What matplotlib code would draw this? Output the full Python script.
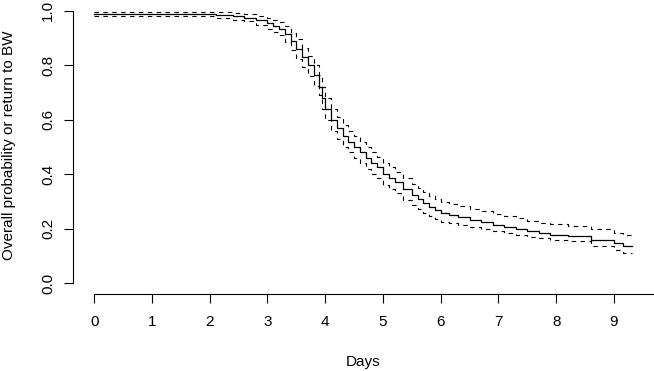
import matplotlib
matplotlib.use("Agg")
import matplotlib.pyplot as plt
import numpy as np

plt.rcParams['font.family'] = ['Liberation Sans', 'DejaVu Sans']

# step times (days) and estimates
times = [0, 2.1, 2.4, 2.6, 2.8, 3.0, 3.1, 3.2, 3.3, 3.4, 3.5, 3.6, 3.7, 3.8, 3.9,
         3.95, 4.0, 4.1, 4.2, 4.3, 4.4, 4.5, 4.6, 4.7, 4.8, 4.9, 5.0, 5.1, 5.2,
         5.35, 5.5, 5.6, 5.7, 5.8, 5.9, 6.0, 6.15, 6.3, 6.5, 6.7, 6.9, 7.1, 7.3,
         7.5, 7.7, 7.9, 8.2, 8.6, 9.0, 9.15]
end_time = 9.32

surv = [0.99, 0.985, 0.98, 0.975, 0.965, 0.955, 0.945, 0.935, 0.915, 0.89, 0.86,
        0.83, 0.80, 0.765, 0.72, 0.68, 0.64, 0.60, 0.57, 0.54, 0.52, 0.50, 0.48,
        0.46, 0.44, 0.425, 0.40, 0.385, 0.37, 0.345, 0.325, 0.31, 0.295, 0.28,
        0.27, 0.258, 0.25, 0.242, 0.232, 0.225, 0.215, 0.207, 0.198, 0.19, 0.183,
        0.177, 0.172, 0.16, 0.147, 0.135]

upper = [0.997, 0.995, 0.992, 0.988, 0.982, 0.975, 0.968, 0.96, 0.945, 0.92, 0.895,
         0.865, 0.835, 0.80, 0.765, 0.72, 0.68, 0.64, 0.61, 0.58, 0.56, 0.54, 0.52,
         0.50, 0.48, 0.465, 0.44, 0.425, 0.41, 0.385, 0.365, 0.35, 0.335, 0.32,
         0.31, 0.298, 0.29, 0.282, 0.272, 0.265, 0.255, 0.247, 0.238, 0.23, 0.222,
         0.216, 0.21, 0.198, 0.185, 0.175]

lower = [0.982, 0.975, 0.968, 0.962, 0.95, 0.935, 0.922, 0.91, 0.885, 0.858, 0.825,
         0.795, 0.762, 0.725, 0.69, 0.64, 0.60, 0.56, 0.53, 0.50, 0.48, 0.46, 0.44,
         0.42, 0.40, 0.385, 0.36, 0.345, 0.33, 0.305, 0.288, 0.272, 0.258, 0.245,
         0.235, 0.225, 0.22, 0.213, 0.205, 0.198, 0.193, 0.185, 0.177, 0.17, 0.164,
         0.158, 0.153, 0.135, 0.122, 0.11]

xticks = list(range(10))
yticks = [0.0, 0.2, 0.4, 0.6, 0.8, 1.0]

t = np.append(times, end_time)
def ext(v):
    return np.append(v, v[-1])

W, H = 654, 371
fig = plt.figure(figsize=(W / 100, H / 100), dpi=100)
ax = fig.add_axes([72.7 / W, 1 - 294 / H, 1 - 72.7 / W, 294 / H])

ax.step(t, ext(surv), where='post', color='black', lw=0.9)
ax.step(t, ext(upper), where='post', color='black', lw=0.8, linestyle=(0, (4, 4)))
ax.step(t, ext(lower), where='post', color='black', lw=0.8, linestyle=(0, (4, 4)))

xmax = t[-1]
ax.set_xlim(-0.04 * xmax, 1.04 * xmax)
ax.set_ylim(-0.04, 1.04)

for s in ['top', 'right']:
    ax.spines[s].set_visible(False)
ax.spines['left'].set_bounds(0, 1)
ax.spines['bottom'].set_bounds(0, 1.04 * xmax)
for s in ['left', 'bottom']:
    ax.spines[s].set_linewidth(0.8)

ax.set_xticks(xticks)
ax.set_xticklabels([str(v) for v in xticks])
ax.set_yticks(yticks)
ax.set_yticklabels(['%.1f' % v for v in yticks])
ax.tick_params(axis='both', direction='out', length=6.8, width=0.8, labelsize=11)
ax.tick_params(axis='x', pad=8)
ax.tick_params(axis='y', pad=6, labelrotation=90)
for lab in ax.get_yticklabels():
    lab.set_verticalalignment('center')
    lab.set_horizontalalignment('right')

fig.text(363 / W, 1 - 366 / H, 'Days', ha='center', va='baseline', fontsize=11)
fig.text(9 / W, 1 - 145 / H, 'Overall probability or return to BW',
         rotation=90, ha='center', va='center', fontsize=11)

fig.savefig('out.png', dpi=100)
